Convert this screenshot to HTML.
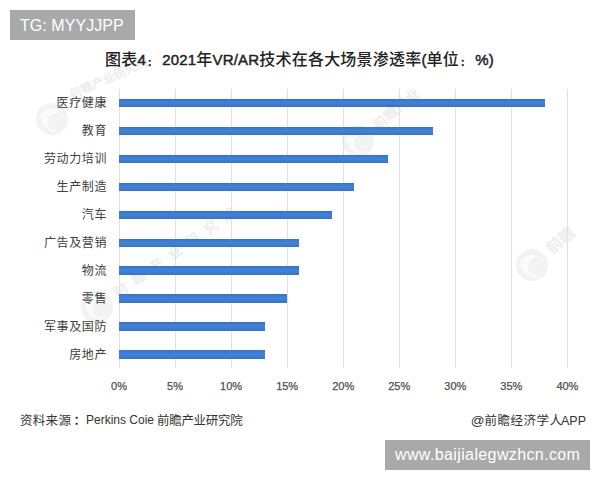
<!DOCTYPE html>
<html><head><meta charset="utf-8">
<style>
*{margin:0;padding:0;box-sizing:border-box}
html,body{width:600px;height:480px;background:#fff;overflow:hidden}
body{position:relative;font-family:"Liberation Sans","Noto Sans CJK SC",sans-serif}
.wm{position:absolute;left:0;top:0}
.box{position:absolute;background:#a9a9a9;color:#fff;font-size:16px;line-height:30px;height:30px;white-space:nowrap}
.title{position:absolute;left:105px;top:49.3px;font-size:16px;font-weight:500;letter-spacing:0.2px;color:#222;white-space:nowrap;line-height:22px}
.title i{font-style:normal;display:inline-block;width:16.2px;font-size:9px;font-weight:700;line-height:1;vertical-align:-0.8px;text-indent:1.6px;-webkit-text-stroke:0.4px #222}
.title b{font-size:15px;font-weight:400;-webkit-text-stroke:0.45px #222;position:relative;top:-0.6px}
.grid{position:absolute;top:88.5px;height:279px;width:1px;background:#e0e0e0}
.bar{position:absolute;left:119.0px;height:8.8px;background:linear-gradient(to bottom,#4070b6 0%,#3b7cd6 25%,#3a83e3 50%,#3b7cd6 75%,#4070b6 100%)}
.lab{position:absolute;right:493px;height:20px;line-height:20px;font-size:12px;color:#404040;white-space:nowrap;letter-spacing:0.6px}
.ax{position:absolute;top:377.3px;width:60px;text-align:center;font-size:11px;line-height:18px;color:#505050;-webkit-text-stroke:0.25px #505050}
.src{position:absolute;top:410.5px;font-size:12px;line-height:20px;color:#333;white-space:nowrap}
.app{position:absolute;right:14px;top:410.5px;font-size:12.5px;line-height:20px;color:#333;white-space:nowrap}
</style></head><body>
<svg class="wm" width="600" height="480" viewBox="0 0 600 480"><g transform="translate(52,119) rotate(-28)"><circle r="16" fill="#f3f3f3"/><path d="M-9,-8 C-2,-14 8,-10 10,-2 C4,-6 -3,-5 -6,1 C-8,6 -5,11 0,13 C-8,13 -13,3 -9,-8 Z" fill="#fbfbfb"/></g><text transform="translate(72,99) rotate(-24)" font-size="12" font-weight="700" fill="#ededed" font-family="Noto Sans CJK SC, sans-serif">前瞻产业研究院</text><g transform="translate(358,141) rotate(-40)"><circle r="16" fill="#f3f3f3"/><path d="M-9,-8 C-2,-14 8,-10 10,-2 C4,-6 -3,-5 -6,1 C-8,6 -5,11 0,13 C-8,13 -13,3 -9,-8 Z" fill="#fbfbfb"/><text x="22" y="5" font-size="14" font-weight="700" letter-spacing="0" fill="#ededed" font-family="Noto Sans CJK SC, sans-serif">前瞻产业</text></g><g transform="translate(97,307) rotate(-35)"><circle r="16" fill="#f3f3f3"/><path d="M-9,-8 C-2,-14 8,-10 10,-2 C4,-6 -3,-5 -6,1 C-8,6 -5,11 0,13 C-8,13 -13,3 -9,-8 Z" fill="#fbfbfb"/><text x="22" y="5" font-size="14" font-weight="700" letter-spacing="8" fill="#ededed" font-family="Noto Sans CJK SC, sans-serif">前瞻产业研究院</text></g><g transform="translate(532,265) rotate(-40)"><circle r="16" fill="#f3f3f3"/><path d="M-9,-8 C-2,-14 8,-10 10,-2 C4,-6 -3,-5 -6,1 C-8,6 -5,11 0,13 C-8,13 -13,3 -9,-8 Z" fill="#fbfbfb"/><text x="22" y="5" font-size="16" font-weight="700" letter-spacing="0" fill="#ededed" font-family="Noto Sans CJK SC, sans-serif">前瞻</text></g></svg>
<div class="box" style="left:10px;top:10px;width:125px;padding-left:10px;padding-top:0.5px;letter-spacing:0.05px">TG: MYYJJPP</div>
<div class="title">图表<b>4</b><i>：</i><b>2021</b>年<b>VR/AR</b>技术在各大场景渗透率<b>(</b>单位<i>：</i><b>%)</b></div>
<div class="grid" style="left:118.50px"></div>
<div class="ax" style="left:89.00px">0%</div>
<div class="grid" style="left:174.55px"></div>
<div class="ax" style="left:145.05px">5%</div>
<div class="grid" style="left:230.60px"></div>
<div class="ax" style="left:201.10px">10%</div>
<div class="grid" style="left:286.65px"></div>
<div class="ax" style="left:257.15px">15%</div>
<div class="grid" style="left:342.70px"></div>
<div class="ax" style="left:313.20px">20%</div>
<div class="grid" style="left:398.75px"></div>
<div class="ax" style="left:369.25px">25%</div>
<div class="grid" style="left:454.80px"></div>
<div class="ax" style="left:425.30px">30%</div>
<div class="grid" style="left:510.85px"></div>
<div class="ax" style="left:481.35px">35%</div>
<div class="grid" style="left:566.90px"></div>
<div class="ax" style="left:537.40px">40%</div>
<div class="bar" style="top:98.70px;width:425.98px"></div>
<div class="lab" style="top:93.10px">医疗健康</div>
<div class="bar" style="top:126.66px;width:313.88px"></div>
<div class="lab" style="top:121.06px">教育</div>
<div class="bar" style="top:154.62px;width:269.04px"></div>
<div class="lab" style="top:149.02px">劳动力培训</div>
<div class="bar" style="top:182.58px;width:235.41px"></div>
<div class="lab" style="top:176.98px">生产制造</div>
<div class="bar" style="top:210.54px;width:212.99px"></div>
<div class="lab" style="top:204.94px">汽车</div>
<div class="bar" style="top:238.50px;width:180.26px"></div>
<div class="lab" style="top:232.90px">广告及营销</div>
<div class="bar" style="top:266.46px;width:180.26px"></div>
<div class="lab" style="top:260.86px">物流</div>
<div class="bar" style="top:294.42px;width:168.15px"></div>
<div class="lab" style="top:288.82px">零售</div>
<div class="bar" style="top:322.38px;width:145.73px"></div>
<div class="lab" style="top:316.78px">军事及国防</div>
<div class="bar" style="top:350.34px;width:145.73px"></div>
<div class="lab" style="top:344.74px">房地产</div>
<div class="src" style="left:20px;font-size:12.5px;letter-spacing:0.3px">资料来源<span style="display:inline-block;text-indent:2.2px;font-weight:700">：</span></div><div class="src" style="left:86px;top:410px">Perkins Coie</div><div class="src" style="left:157px;font-size:12.5px;letter-spacing:-0.3px">前瞻产业研究院</div>
<div class="app"><span style="font-size:13.5px">@</span><span style="letter-spacing:0.5px">前瞻经济学人</span><span style="margin-left:-1.6px">APP</span></div>
<div class="box" style="left:385px;top:440px;width:205px;padding-left:10px;letter-spacing:0.38px">www.baijialegwzhcn.com</div>
</body></html>
